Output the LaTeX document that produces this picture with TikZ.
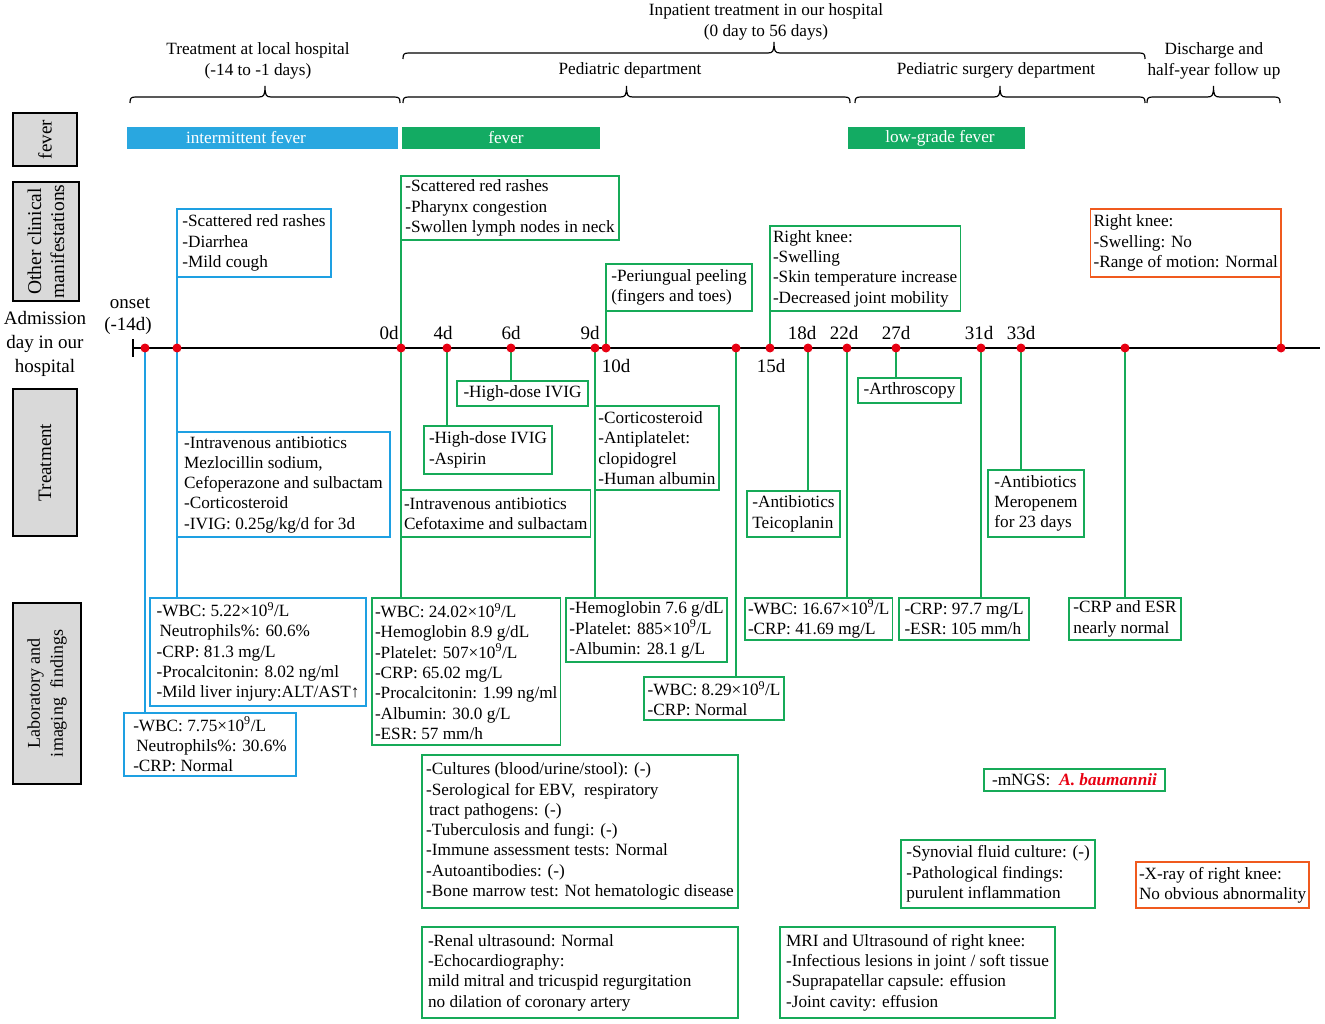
\documentclass[tikz,border=0pt]{standalone}
\usepackage{fontspec}
\setmainfont{Liberation Serif}
\usetikzlibrary{calc}
\definecolor{blu}{RGB}{30,160,226}
\definecolor{blubar}{RGB}{41,167,224}
\definecolor{grn}{RGB}{22,170,88}
\definecolor{grnbar}{RGB}{19,171,99}
\definecolor{org}{RGB}{240,90,30}
\definecolor{reddot}{RGB}{232,0,18}
\definecolor{gfill}{RGB}{217,217,217}
\newcommand\fs{\fontsize{17.2}{20.3}\selectfont}
\newcommand\fb{\fontsize{19}{24}\selectfont}
\newcommand\fbl{\fontsize{19.5}{23}\selectfont}
\newcommand\flab{\fontsize{18}{23}\selectfont}
\newcommand\hbrace[4]{%
 \draw[brc] (#1,#3+6) .. controls (#1,#3+1) and (#1+1,#3) .. (#1+6,#3)
   -- ({(#1+#2)/2-6},#3) .. controls ({(#1+#2)/2-1},#3) and ({(#1+#2)/2},#3-2) .. ({(#1+#2)/2},#3-#4)
   .. controls ({(#1+#2)/2},#3-2) and ({(#1+#2)/2+1},#3) .. ({(#1+#2)/2+6},#3)
   -- (#2-6,#3) .. controls (#2-1,#3) and (#2,#3+1) .. (#2,#3+6);}
\begin{document}
\begin{tikzpicture}[x=1pt,y=-1pt,
 bx/.style={draw, line width=1.5pt, anchor=north west, inner xsep=3pt, inner ysep=0pt, outer sep=0pt, align=left, font=\fs, fill=white},
 wh/.style 2 args={minimum width=#1pt, minimum height=#2pt},
 bb/.style={bx, draw=blu}, gb/.style={bx, draw=grn}, ob/.style={bx, draw=org},
 bl/.style={draw=blu, line width=1.5pt}, gl/.style={draw=grn, line width=1.5pt}, ol/.style={draw=org, line width=1.5pt},
 dot/.style={circle, fill=reddot, inner sep=0pt, minimum size=9pt},
 daylab/.style={font=\fb, inner sep=0pt},
 lab/.style={draw=black, line width=2.2pt, fill=gfill, anchor=north west, inner sep=0pt, outer sep=0pt},
 bar/.style={anchor=north west, inner sep=0pt, outer sep=0pt},
 bartext/.style={text=white, font=\fs, inner sep=0pt},
 brc/.style={line width=1.2pt},
 hdr/.style={font=\fs, align=center, inner sep=0pt}]
\useasboundingbox[fill=white] (0,0) rectangle (1325,1024);

% headers
\node[hdr] (h1) at (258,61) {Treatment at local hospital\\(-14 to -1 days)};
\node[hdr] (h2) at (766,22) {Inpatient treatment in our hospital\\(0 day to 56 days)};
\node[hdr] (h3) at (630,70) {Pediatric department};
\node[hdr] (h4) at (996,70) {Pediatric surgery department};
\node[hdr] (h5) at (1214,61) {Discharge and\\half-year follow up};
\hbrace{130}{400}{97}{11}
\hbrace{403}{1145}{53}{11}
\hbrace{403}{850}{97}{11}
\hbrace{855}{1145}{97}{11}
\hbrace{1147}{1280}{97}{11}

% left labels
\node[lab, wh={64}{53}] (g1) at (13,113) {};
\node[rotate=90, font=\fb, inner sep=0pt] (g1t) at (g1.center) {fever};
\node[lab, wh={66}{119}] (g2) at (13,182) {};
\node[rotate=90, font=\fbl, align=center, inner sep=0pt] (g2t) at (g2.center) {Other clinical\\manifestations};
\node[lab, wh={64}{147}] (g3) at (13,389) {};
\node[rotate=90, font=\fb, inner sep=0pt] (g3t) at (g3.center) {Treatment};
\node[lab, wh={68}{181}] (g4) at (13,603) {};
\node[rotate=90, font=\flab, align=center, inner sep=0pt] (g4t) at (g4.center) {Laboratory and\\imaging\ \ findings};
\node[font=\fb, align=center, inner sep=0pt] (adm) at (45,344) {Admission\\day in our\\hospital};

% fever bars
\node[bar, fill=blubar, wh={271}{22}] (fb1) at (127,127) {};
\node[bartext] (fb1t) at (246,138) {intermittent fever};
\node[bar, fill=grnbar, wh={198}{22}] (fb2) at (402,127) {};
\node[bartext] (fb2t) at (506,138) {fever};
\node[bar, fill=grnbar, wh={177}{22}] (fb3) at (848,127) {};
\node[bartext] (fb3t) at (940,138) {low-grade fever};

% timeline coordinates
\foreach \n/\x in {on/145, m13/177, d0/401, d4/447, d6/511, d9/595, d10/606, d12/736, d15/770, d18/808, d22/847, d27/896, d31/981, d33/1021, d45/1125, d56/1281}
  \coordinate (\n) at (\x,348);

% boxes above timeline
\node[bb, wh={154}{68}] (a1) at (177,209) {-Scattered red rashes\\-Diarrhea\\-Mild cough};
\node[gb, wh={218}{64}] (a2) at (401,176) {-Scattered red rashes\\-Pharynx congestion\\-Swollen lymph nodes in neck};
\node[gb, wh={146}{47}] (a3) at (606,264) {-Periungual peeling\\(fingers and toes)};
\node[gb, wh={189}{85}] (a4) at (770,226) {Right knee:\\-Swelling\\-Skin temperature increase\\-Decreased joint mobility};
\node[ob, wh={190}{68}, anchor=north east] (a5) at (1281,209) {Right knee:\\-Swelling: No\\-Range of motion: Normal};

% treatment boxes
\node[bb, wh={213}{105}] (tb1) at (177,432) {-Intravenous antibiotics\\Mezlocillin sodium,\\Cefoperazone and sulbactam\\-Corticosteroid\\-IVIG: 0.25g/kg/d for 3d};
\node[gb, wh={131}{25}] (tb2) at (457,381) {-High-dose IVIG};
\node[gb, wh={128}{48}] (tb3) at (424,426) {-High-dose IVIG\\-Aspirin};
\node[gb, wh={187}{47}] (tb4) at (401,490) {-Intravenous antibiotics\\Cefotaxime and sulbactam};
\node[gb, wh={124}{84}] (tb5) at (595,406) {-Corticosteroid\\-Antiplatelet:\\clopidogrel\\-Human albumin};
\node[gb, wh={103}{25}] (tb6) at (858,378) {-Arthroscopy};
\node[gb, wh={93}{46}] (tb7) at (747,491) {-Antibiotics\\Teicoplanin};
\node[gb, wh={96}{67}] (tb8) at (988,470) {-Antibiotics\\Meropenem\\for 23 days};

% laboratory boxes
\node[bb, wh={172}{63}] (l1) at (124,713) {-WBC: 7.75×10\textsuperscript{9}/L\\\hspace*{3pt}Neutrophils\%: 30.6\%\\-CRP: Normal};
\node[bb, wh={216}{108}] (l2) at (150,598) {-WBC: 5.22×10\textsuperscript{9}/L\\\hspace*{3pt}Neutrophils\%: 60.6\%\\-CRP: 81.3 mg/L\\-Procalcitonin: 8.02 ng/ml\\-Mild liver injury:ALT/AST↑};
\node[gb, wh={188}{147}] (l3) at (372,598) {-WBC: 24.02×10\textsuperscript{9}/L\\-Hemoglobin 8.9 g/dL\\-Platelet: 507×10\textsuperscript{9}/L\\-CRP: 65.02 mg/L\\-Procalcitonin: 1.99 ng/ml\\-Albumin: 30.0 g/L\\-ESR: 57 mm/h};
\node[gb, wh={161}{64}] (l4) at (566,598) {-Hemoglobin 7.6 g/dL\\-Platelet: 885×10\textsuperscript{9}/L\\-Albumin: 28.1 g/L};
\node[gb, wh={140}{43}] (l5) at (644,677) {-WBC: 8.29×10\textsuperscript{9}/L\\-CRP: Normal};
\node[gb, wh={147}{42}] (l6) at (745,598) {-WBC: 16.67×10\textsuperscript{9}/L\\-CRP: 41.69 mg/L};
\node[gb, wh={130}{42}] (l7) at (899,598) {-CRP: 97.7 mg/L\\-ESR: 105 mm/h};
\node[gb, wh={112}{42}] (l8) at (1069,598) {-CRP and ESR\\nearly normal};
\node[gb, wh={316}{153}] (l9) at (422,755) {-Cultures (blood/urine/stool): (-)\\-Serological for EBV,\ \ respiratory\\\hspace*{3pt}tract pathogens: (-)\\-Tuberculosis and fungi: (-)\\-Immune assessment tests: Normal\\-Autoantibodies: (-)\\-Bone marrow test: Not hematologic disease};
\node[gb, wh={316}{91}] (l10) at (422,927) {\makebox[304pt][l]{-Renal ultrasound: Normal}\\-Echocardiography:\\mild mitral and tricuspid regurgitation\\no dilation of coronary artery};
\node[gb, wh={181}{22}] (l11) at (984,769) {-mNGS:\hspace{9pt}\textcolor{reddot}{\textbf{\textit{A. baumannii}}}};
\node[gb, wh={194}{68}] (l12) at (901,840) {-Synovial fluid culture: (-)\\-Pathological findings:\\purulent inflammation};
\node[gb, wh={275}{91}] (l13) at (780,927) {MRI and Ultrasound of right knee:\\-Infectious lesions in joint / soft tissue\\-Suprapatellar capsule: effusion\\-Joint cavity: effusion};
\node[ob, wh={173}{46}] (l14) at (1136,862) {-X-ray of right knee:\\No obvious abnormality};

% connectors
\draw[bl] (m13) -- (m13 |- a1.south);
\draw[bl] (m13) -- (m13 |- l2.north);
\draw[bl] (on) -- (on |- l1.north);
\draw[gl] (d0) -- (d0 |- a2.south);
\draw[gl] (d0) -- (d0 |- l3.north);
\draw[gl] (d4) -- (d4 |- tb3.north);
\draw[gl] (d6) -- (d6 |- tb2.north);
\draw[gl] (d9) -- (d9 |- l4.north);
\draw[gl] (d10) -- (d10 |- a3.south);
\draw[gl] (d12) -- (d12 |- l5.north);
\draw[gl] (d15) -- (d15 |- a4.south);
\draw[gl] (d18) -- (d18 |- tb7.north);
\draw[gl] (d22) -- (d22 |- l6.north);
\draw[gl] (d27) -- (d27 |- tb6.north);
\draw[gl] (d31) -- (d31 |- l7.north);
\draw[gl] (d33) -- (d33 |- tb8.north);
\draw[gl] (d45) -- (d45 |- l8.north);
\draw[ol] (d56) -- (d56 |- a5.south);

% timeline
\coordinate (tl0) at (133,348);
\coordinate (tl1) at (1320,348);
\draw[line width=1.6pt] (tl0) -- (tl1);
\draw[line width=1.6pt] (133,339) -- (133,357);

% day labels
\node[daylab] (lon) at (130,303) {onset};
\node[daylab] (lon2) at (128,326) {(-14d)};
\node[daylab] (l0d) at (389,333) {0d};
\node[daylab] (l4d) at (443,333) {4d};
\node[daylab] (l6d) at (511,333) {6d};
\node[daylab] (l9d) at (590,333) {9d};
\node[daylab] (l10d) at (616,366) {10d};
\node[daylab] (l15d) at (771,366) {15d};
\node[daylab] (l18d) at (802,333) {18d};
\node[daylab] (l22d) at (844,333) {22d};
\node[daylab] (l27d) at (896,333) {27d};
\node[daylab] (l31d) at (979,333) {31d};
\node[daylab] (l33d) at (1021,333) {33d};

% dots
\foreach \n in {on, m13, d0, d4, d6, d9, d10, d12, d15, d18, d22, d27, d31, d33, d45, d56}
  \node[dot] (p\n) at (\n) {};
\end{tikzpicture}
\end{document}
